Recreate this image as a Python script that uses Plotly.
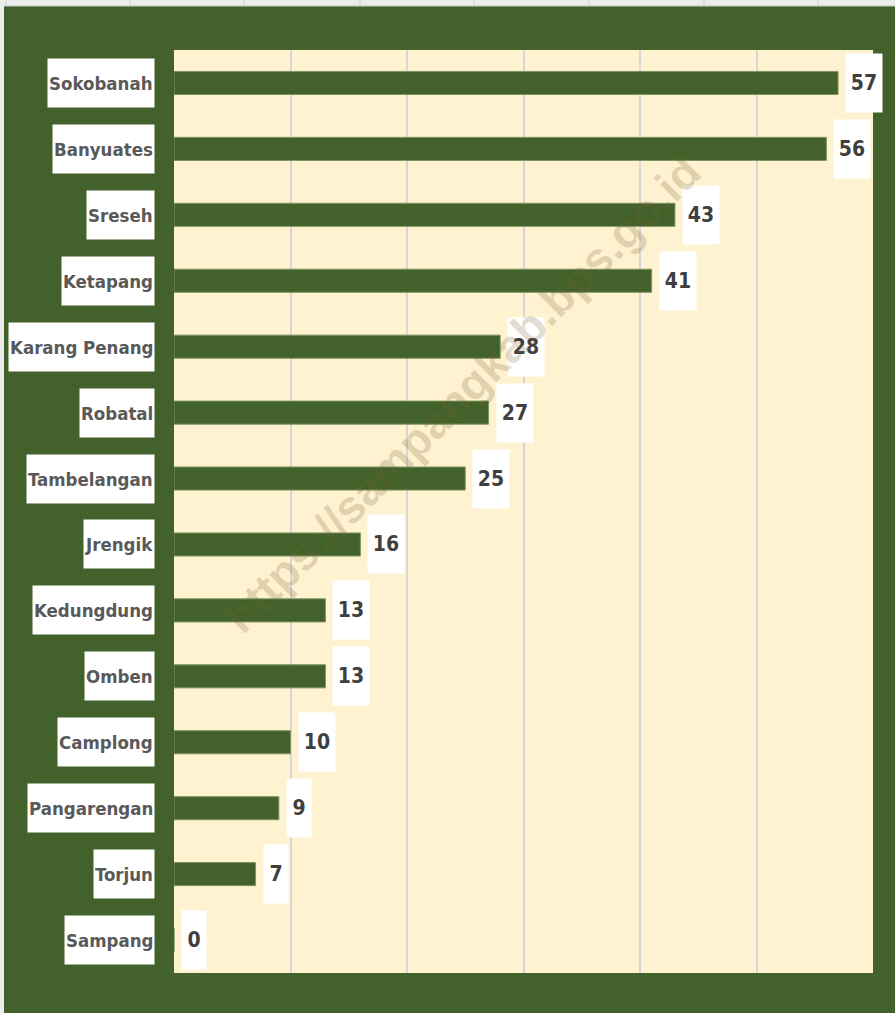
import plotly.graph_objects as go

# ---- data ----
categories = ["Sokobanah", "Banyuates", "Sreseh", "Ketapang", "Karang Penang", "Robatal",
              "Tambelangan", "Jrengik", "Kedungdung", "Omben", "Camplong", "Pangarengan",
              "Torjun", "Sampang"]
values = [57, 56, 43, 41, 28, 27, 25, 16, 13, 13, 10, 9, 7, 0]
x_ticks = [0, 10, 20, 30, 40, 50, 60]
watermark = "https://sampangkab.bps.go.id"

# ---- layout constants ----
W, H = 895, 1013
ML, MR, MT, MB = 174, 22, 50, 40
PW, PH = W - ML - MR, H - MT - MB

GREEN = "#42612b"
CREAM = "#fff2d1"
FONT = "DejaVu Sans Condensed, Liberation Sans Narrow, Arial Narrow, sans-serif"


def px_x(p):
    return (p - ML) / PW


def px_y(p):
    return 1 - (p - MT) / PH


fig = go.Figure(go.Bar(
    x=values, y=categories, orientation="h", width=0.35,
    marker=dict(color=GREEN, line=dict(color="#7d955f", width=1)),
    hoverinfo="skip",
))

annotations = []
for cat in categories:
    annotations.append(dict(
        x=0, xref="paper", y=cat, yref="y", xanchor="right", yanchor="middle",
        xshift=-19, text=f"<b>{cat}</b>", showarrow=False,
        bgcolor="white", borderpad=1, height=46,
        font=dict(family=FONT, size=18.5, color="#595959"),
    ))
for cat, v in zip(categories, values):
    annotations.append(dict(
        x=v, xref="x", y=cat, yref="y", xanchor="left", yanchor="middle",
        xshift=7, text=f"<b>{v}</b>", showarrow=False,
        bgcolor="white", borderpad=0, height=58, width=12 * len(str(v)) + 12,
        font=dict(family=FONT, size=21, color="#3f3f3f"),
    ))
annotations.append(dict(
    x=px_x(462), y=px_y(394), xref="paper", yref="paper", text=f"<b>{watermark}</b>",
    showarrow=False, textangle=-45,
    font=dict(family="Liberation Sans, Arial, sans-serif", size=46, color="rgba(120,100,50,0.22)"),
))

shapes = [
    # spreadsheet strip on top and left
    dict(type="rect", xref="paper", yref="paper", x0=px_x(0), x1=px_x(W), y0=px_y(6), y1=px_y(0),
         fillcolor="#ececec", line=dict(width=0), layer="above"),
    dict(type="line", xref="paper", yref="paper", x0=px_x(0), x1=px_x(W), y0=px_y(6), y1=px_y(6),
         line=dict(color="#c8c8c8", width=1), layer="above"),
    dict(type="rect", xref="paper", yref="paper", x0=px_x(0), x1=px_x(4), y0=px_y(H), y1=px_y(0),
         fillcolor="#ececec", line=dict(width=0), layer="above"),
]
for xp in [6, 130, 244, 360, 474, 589, 704, 818]:
    shapes.append(dict(type="line", xref="paper", yref="paper", x0=px_x(xp), x1=px_x(xp),
                       y0=px_y(6), y1=px_y(0), line=dict(color="#cfcfcf", width=1), layer="above"))

fig.update_layout(
    width=W, height=H,
    margin=dict(l=ML, r=MR, t=MT, b=MB, pad=0),
    paper_bgcolor=GREEN, plot_bgcolor=CREAM,
    showlegend=False,
    bargap=0.65,
    xaxis=dict(range=[0, 60], tickvals=x_ticks, showticklabels=False, showgrid=True,
               gridcolor="#d6d6d6", gridwidth=2, zeroline=False, showline=False, fixedrange=True),
    yaxis=dict(categoryorder="array", categoryarray=categories, autorange="reversed",
               showticklabels=False, showgrid=False, zeroline=False, fixedrange=True),
    annotations=annotations,
    shapes=shapes,
)

fig.write_html("out.html", config={"displayModeBar": False},
               post_script="document.body.style.margin='0px';document.body.style.overflow='hidden';")
